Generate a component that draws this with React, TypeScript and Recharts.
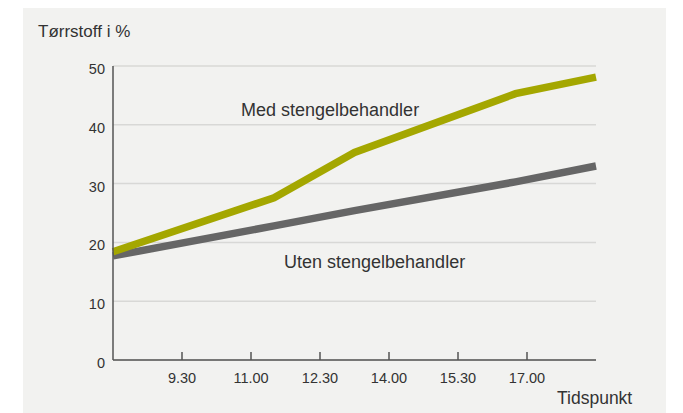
import React from "react";
import { CartesianGrid, Line, LineChart, XAxis, YAxis } from "recharts";

// time of day in hours (8.5 = 08:30)
const times = [8, 11.5, 13.25, 16.75, 18.5];
const medValues = [18.4, 27.6, 35.3, 45.3, 48.1];
const utenValues = [17.7, 22.8, 25.4, 30.3, 33.0];

const xTicks = [9.5, 11, 12.5, 14, 15.5, 17];
const yTicks = [0, 10, 20, 30, 40, 50];

const data = times.map((t, i) => ({ t, med: medValues[i], uten: utenValues[i] }));

const FONT = '"Liberation Sans", Arial, sans-serif';
const TEXT = "#333333";

function formatTime(value: number) {
  const h = Math.floor(value);
  const m = Math.round((value - h) * 60);
  return `${h}.${String(m).padStart(2, "0")}`;
}

function XTick(props: any) {
  const { x, y, payload } = props;
  return (
    <g>
      <line x1={x} x2={x} y1={y - 8} y2={y} stroke="#555" strokeWidth={1.5} />
      <text x={x} y={y + 23} textAnchor="middle" fontSize={14.5} fill={TEXT} fontFamily={FONT}>
        {formatTime(payload.value)}
      </text>
    </g>
  );
}

function YTick(props: any) {
  const { x, y, payload } = props;
  return (
    <text x={x} y={y + 8} textAnchor="end" fontSize={14.5} fill={TEXT} fontFamily={FONT}>
      {payload.value}
    </text>
  );
}

export default function App() {
  return (
    <div style={{ position: "absolute", left: 0, top: 0, width: 683, height: 413, background: "#fff" }}>
      <div style={{ position: "absolute", left: 23, top: 8, width: 643, height: 405, background: "#f2f2f0" }} />
      <div style={{ position: "absolute", left: 0, top: 0 }}>
        <LineChart width={683} height={413} data={data} margin={{ top: 66, right: 87, bottom: 23, left: 63 }}>
          <CartesianGrid vertical={false} stroke="#d8d8d6" strokeWidth={1.5} />
          <XAxis
            dataKey="t"
            type="number"
            domain={[8, 18.5]}
            ticks={xTicks}
            tick={<XTick />}
            tickLine={false}
            tickSize={0}
            tickMargin={0}
            height={30}
            axisLine={{ stroke: "#555", strokeWidth: 1.5 }}
          />
          <YAxis
            type="number"
            domain={[0, 50]}
            ticks={yTicks}
            tick={<YTick />}
            tickLine={false}
            tickSize={0}
            tickMargin={8}
            width={50}
            axisLine={{ stroke: "#555", strokeWidth: 1.5 }}
          />
          <Line
            dataKey="uten"
            type="linear"
            stroke="#666666"
            strokeWidth={7.5}
            dot={false}
            isAnimationActive={false}
          />
          <Line
            dataKey="med"
            type="linear"
            stroke="#a4a700"
            strokeWidth={7.5}
            dot={false}
            isAnimationActive={false}
          />
        </LineChart>
      </div>
      <svg width={683} height={413} style={{ position: "absolute", left: 0, top: 0, pointerEvents: "none" }}>
        <text x={38} y={37} fontSize={17} fill={TEXT} fontFamily={FONT}>Tørrstoff i %</text>
        <text x={241} y={116} fontSize={18} fill={TEXT} fontFamily={FONT}>Med stengelbehandler</text>
        <text x={284} y={268} fontSize={18} fill={TEXT} fontFamily={FONT}>Uten stengelbehandler</text>
        <text x={557} y={404} fontSize={17.5} fill={TEXT} fontFamily={FONT}>Tidspunkt</text>
      </svg>
    </div>
  );
}
